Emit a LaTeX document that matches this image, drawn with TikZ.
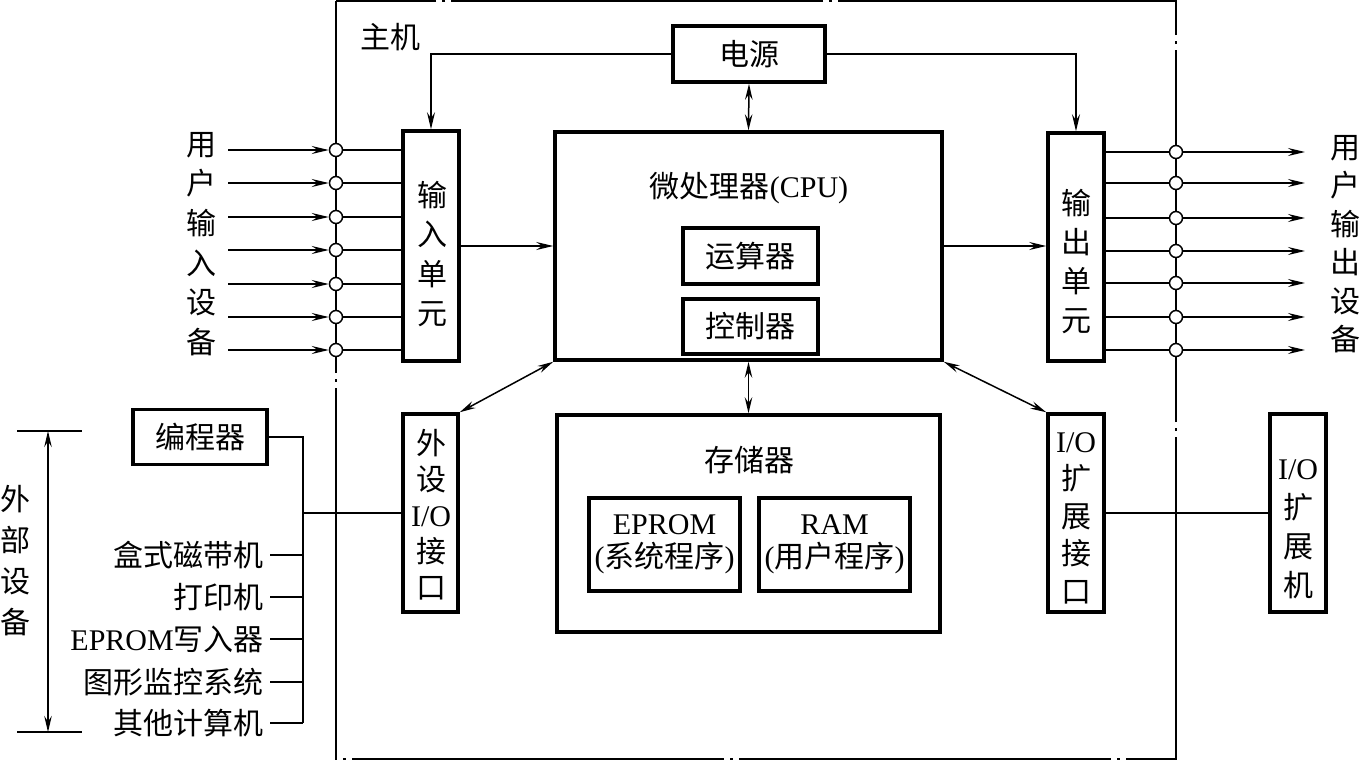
\documentclass[tikz,border=0pt]{standalone}
\usepackage{fontspec}
\setmainfont{Liberation Serif}
\newfontfamily\cjk{Noto Sans CJK SC}
\usetikzlibrary{arrows.meta}
\newcommand\sz{\fontsize{30}{34}\selectfont}
\begin{document}
\begin{tikzpicture}[x=1pt,y=-1pt,
  every node/.style={font=\sz},
  thinl/.style={line width=1.5pt},
  frame/.style={line width=1.5pt, dash pattern=on 372pt off 6pt on 3pt off 6pt},
  box/.style={draw, line width=3.5pt, inner sep=0pt},
  tipa/.style={-{Stealth[length=17pt,width=8pt,inset=6pt]}},
  tipb/.style={{Stealth[length=16pt,width=7.5pt,inset=5.5pt]}-{Stealth[length=16pt,width=7.5pt,inset=5.5pt]}},
  dot/.style={circle, draw, fill=white, line width=1.5pt, minimum size=13pt, inner sep=0pt},
  ctext/.style={font=\cjk\sz},
  vtext/.style={align=center, inner sep=0pt, font=\cjk\fontsize{30}{#1}\selectfont},
  vmix/.style={align=center, inner sep=0pt, font=\fontsize{30}{#1}\selectfont}
]
\useasboundingbox (0,0) rectangle (1360,761);

% main frame
\coordinate (fr1) at (336,1);
\coordinate (fr2) at (1176,759);
\draw[frame] (fr1) rectangle (fr2);
\node[ctext] (host) at (390,37) {主机};

% boxes
\node[box, ctext, minimum width=152pt, minimum height=56pt] (psu) at (749,54) {电源};
\node[box, minimum width=387pt, minimum height=228pt] (cpu) at (748.5,246) {};
\node (cpulab) at (749,188) {{\cjk 微处理器}(CPU)};
\node[box, ctext, minimum width=135pt, minimum height=56pt] (alu) at (750.5,256) {运算器};
\node[box, ctext, minimum width=135pt, minimum height=55pt] (ctl) at (750.5,326.5) {控制器};

\node[box, minimum width=383pt, minimum height=217pt] (mem) at (748.5,523.5) {};
\node[ctext] (memlab) at (749,460) {存储器};
\node[box, align=center, minimum width=151pt, minimum height=93pt, font=\fontsize{30}{33}\selectfont] (eprom) at (664.5,544.5) {EPROM\\({\cjk 系统程序})};
\node[box, align=center, minimum width=151pt, minimum height=93pt, font=\fontsize{30}{33}\selectfont] (ram) at (834.5,544.5) {RAM\\({\cjk 用户程序})};

\node[box, minimum width=56pt, minimum height=230pt] (inu) at (431,246) {};
\node[vtext=39.5] (inulab) at (432,254) {输\\入\\单\\元};
\node[box, minimum width=56pt, minimum height=228pt] (outu) at (1076,247) {};
\node[vtext=39] (outulab) at (1076,261.5) {输\\出\\单\\元};

\node[box, minimum width=55pt, minimum height=198pt] (ioa) at (430.5,513) {};
\node[vmix=36] (ioalab) at (431,515) {{\cjk 外}\\{\cjk 设}\\I/O\\{\cjk 接}\\{\cjk 口}};
\node[box, minimum width=56pt, minimum height=198pt] (iob) at (1076,513) {};
\node[vmix=37.5] (ioblab) at (1076,518) {I/O\\{\cjk 扩}\\{\cjk 展}\\{\cjk 接}\\{\cjk 口}};
\node[box, minimum width=56pt, minimum height=198pt] (iox) at (1298,513) {};
\node[vmix=39] (ioxlab) at (1298,529) {I/O\\{\cjk 扩}\\{\cjk 展}\\{\cjk 机}};

\node[box, ctext, minimum width=134pt, minimum height=55pt] (prog) at (200,437) {编程器};

% side labels
\node[vtext=39.6] (inlab) at (201,244) {用\\户\\输\\入\\设\\备};
\node[vtext=38.5] (outlab) at (1345,244) {用\\户\\输\\出\\设\\备};

% input lines
\foreach \yy [count=\i] in {150,183,217,250,284,317,350}{
  \coordinate (is\i) at (228,\yy);
  \node[dot] (ci\i) at (336,\yy) {};
  \draw[thinl, tipa] (is\i) -- (ci\i);
  \draw[thinl] (ci\i) -- (ci\i -| inu.west);
}
% output lines
\foreach \yy [count=\i] in {152,183,218,251,283,317,350}{
  \coordinate (oe\i) at (1305,\yy);
  \node[dot] (co\i) at (1176,\yy) {};
  \draw[thinl] (co\i -| outu.east) -- (co\i);
  \draw[thinl, tipa] (co\i) -- (oe\i);
}

% power and buses
\draw[thinl, tipa] (psu.west) -| (inu.north);
\draw[thinl, tipa] (psu.east) -| (outu.north);
\draw[thinl, tipb] (psu.south) -- (cpu.north);
\draw[thinl, tipb] (cpu.south) -- (mem.north);
\draw[thinl, tipa] (inu.east) -- (inu.east -| cpu.west);
\draw[thinl, tipa] (cpu.east) -- (cpu.east -| outu.west);
\draw[thinl, tipb] (cpu.south west) -- (ioa.north east);
\draw[thinl, tipb] (cpu.south east) -- (iob.north west);
\draw[thinl] (iob.east) -- (iox.west);

% external devices
\coordinate (busb) at (303,723);
\draw[thinl] (prog.east) -| (busb);
\draw[thinl] (ioa.west) -- (ioa.west -| busb);
\foreach \t/\yy [count=\i] in {{\cjk 盒式磁带机}/555,{\cjk 打印机}/597,EPROM{\cjk 写入器}/639,{\cjk 图形监控系统}/682,{\cjk 其他计算机}/723}{
  \node[anchor=east, inner sep=0pt] (dev\i) at (264,\yy) {\t};
  \draw[thinl, shorten <=6pt] (dev\i.east) -- (dev\i.east -| busb);
}

% dimension
\coordinate (dt1) at (17,431);
\coordinate (dt2) at (82,431);
\coordinate (db1) at (17,732);
\coordinate (db2) at (82,732);
\coordinate (da) at (48,431);
\coordinate (dbb) at (48,732);
\draw[thinl] (dt1) -- (dt2);
\draw[thinl] (db1) -- (db2);
\draw[thinl, tipb] (da) -- (dbb);
\node[vtext=41] (extlab) at (15,561) {外\\部\\设\\备};
\end{tikzpicture}
\end{document}
